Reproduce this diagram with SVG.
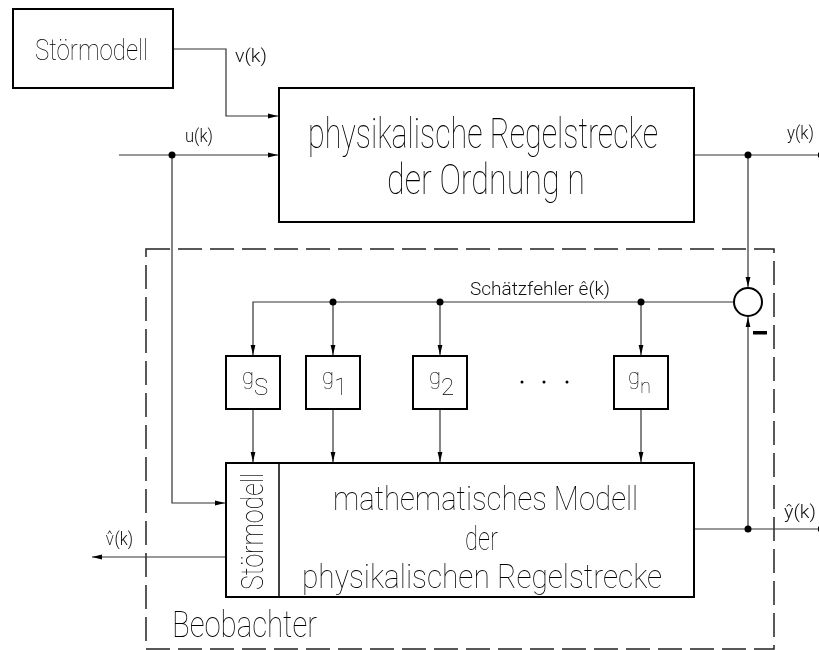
<svg xmlns="http://www.w3.org/2000/svg" width="819" height="650" viewBox="0 0 819 650">
  <style>
    .box { fill: #fff; stroke: #000; stroke-width: 2; }
    .wire { fill: none; stroke: #333; stroke-width: 1.2; }
    .dash { fill: none; stroke: #222; stroke-width: 1.5; stroke-dasharray: 24 8; }
    .t { font-family: "Roboto", "DejaVu Sans", sans-serif; font-weight: 100; fill: #000; }
    .s { font-family: "Roboto", "DejaVu Sans", sans-serif; font-weight: 300; fill: #111; font-size: 18px; }
    .dot { fill: #000; }
  </style>
  <defs>
    <marker id="arr" viewBox="0 0 10 6" refX="10" refY="3" markerWidth="10" markerHeight="6" markerUnits="userSpaceOnUse" orient="auto">
      <path d="M0,0.6 L10,3 L0,5.4 Z" fill="#000"/>
    </marker>
    <!-- plain black-and-white drawing -->
    <filter id="mono" x="0" y="0" width="819" height="650" filterUnits="userSpaceOnUse">
      <feColorMatrix type="saturate" values="0"/>
    </filter>
  </defs>

  <g filter="url(#mono)">
  <rect x="0" y="0" width="819" height="650" fill="#fff"/>

  <!-- observer boundary -->
  <rect class="dash" x="146" y="249" width="628" height="400"/>
  <text class="t" x="172" y="637" font-size="37" textLength="145" lengthAdjust="spacingAndGlyphs">Beobachter</text>

  <!-- connectors -->
  <g id="connectors">
    <polyline class="wire" points="173,49 226,49 226,116 278,116" marker-end="url(#arr)"/>
    <line class="wire" x1="119" y1="155" x2="278" y2="155" marker-end="url(#arr)"/>
    <polyline class="wire" points="172,155 172,503 225,503" marker-end="url(#arr)"/>
    <line class="wire" x1="694" y1="155" x2="828" y2="155" marker-end="url(#arr)"/>
    <line class="wire" x1="748" y1="155" x2="748" y2="287" marker-end="url(#arr)"/>
    <line class="wire" x1="694" y1="529" x2="828" y2="529" marker-end="url(#arr)"/>
    <line class="wire" x1="748" y1="529" x2="748" y2="317" marker-end="url(#arr)"/>
    <line class="wire" x1="226" y1="557" x2="92" y2="557" marker-end="url(#arr)"/>
    <polyline class="wire" points="734,302 253,302 253,355" marker-end="url(#arr)"/>
    <line class="wire" x1="333" y1="302" x2="333" y2="355" marker-end="url(#arr)"/>
    <line class="wire" x1="440" y1="302" x2="440" y2="355" marker-end="url(#arr)"/>
    <line class="wire" x1="641" y1="302" x2="641" y2="355" marker-end="url(#arr)"/>
    <line class="wire" x1="253" y1="410" x2="253" y2="462" marker-end="url(#arr)"/>
    <line class="wire" x1="333" y1="410" x2="333" y2="462" marker-end="url(#arr)"/>
    <line class="wire" x1="440" y1="410" x2="440" y2="462" marker-end="url(#arr)"/>
    <line class="wire" x1="641" y1="410" x2="641" y2="462" marker-end="url(#arr)"/>
    <circle class="dot" cx="172" cy="155" r="3.5"/>
    <circle class="dot" cx="748" cy="155" r="3.5"/>
    <circle class="dot" cx="748" cy="529" r="3.5"/>
    <circle class="dot" cx="333" cy="302" r="3.5"/>
    <circle class="dot" cx="440" cy="302" r="3.5"/>
    <circle class="dot" cx="641" cy="302" r="3.5"/>
    <text class="s" x="235" y="62" textLength="32" lengthAdjust="spacingAndGlyphs">v(k)</text>
    <text class="s" x="185" y="142" textLength="28" lengthAdjust="spacingAndGlyphs">u(k)</text>
    <text class="s" x="787" y="139" textLength="27" lengthAdjust="spacingAndGlyphs">y(k)</text>
    <text class="s" x="784" y="518" textLength="32" lengthAdjust="spacingAndGlyphs">ŷ(k)</text>
    <text class="s" x="105" y="545" textLength="28" lengthAdjust="spacingAndGlyphs">v̂(k)</text>
    <text class="s" x="470" y="295" textLength="140" lengthAdjust="spacingAndGlyphs">Schätzfehler ê(k)</text>
  </g>

  <!-- disturbance model -->
  <g id="stoermodell">
    <rect class="box" x="13" y="9" width="160" height="79"/>
    <text class="t" x="35" y="60" font-size="30" textLength="113" lengthAdjust="spacingAndGlyphs">Störmodell</text>
  </g>

  <!-- physical plant -->
  <g id="regelstrecke">
    <rect class="box" x="279" y="88" width="415" height="134"/>
    <text class="t" x="308" y="148" font-size="43" textLength="350" lengthAdjust="spacingAndGlyphs">physikalische Regelstrecke</text>
    <text class="t" x="387" y="194" font-size="43" textLength="198" lengthAdjust="spacingAndGlyphs">der Ordnung n</text>
  </g>

  <!-- summing junction -->
  <g id="summe">
    <circle cx="748" cy="302" r="14" fill="#fff" stroke="#000" stroke-width="2"/>
    <rect x="753" y="331" width="14" height="3.5" fill="#000"/>
  </g>

  <!-- gains -->
  <g id="gs">
    <rect class="box" x="226" y="356" width="54" height="53"/>
    <text class="t" x="242" y="384" font-size="22">g<tspan font-size="24" dy="11">S</tspan></text>
  </g>
  <g id="g1">
    <rect class="box" x="306" y="356" width="54" height="53"/>
    <text class="t" x="322" y="384" font-size="22">g<tspan font-size="24" dy="11">1</tspan></text>
  </g>
  <g id="g2">
    <rect class="box" x="413" y="356" width="54" height="53"/>
    <text class="t" x="429" y="384" font-size="22">g<tspan font-size="24" dy="11">2</tspan></text>
  </g>
  <g id="ellipsis">
    <circle class="dot" cx="522" cy="382" r="1.5"/>
    <circle class="dot" cx="544" cy="382" r="1.5"/>
    <circle class="dot" cx="567" cy="382" r="1.5"/>
  </g>
  <g id="gn">
    <rect class="box" x="614" y="356" width="54" height="53"/>
    <text class="t" x="628" y="384" font-size="22">g<tspan font-size="20" dy="9">n</tspan></text>
  </g>

  <!-- mathematical model -->
  <g id="modell">
    <rect class="box" x="226" y="463" width="468" height="134"/>
    <line x1="279" y1="463" x2="279" y2="597" stroke="#000" stroke-width="1.5"/>
    <text class="t" transform="translate(263,590) rotate(-90)" font-size="31" textLength="117" lengthAdjust="spacingAndGlyphs">Störmodell</text>
    <text class="t" x="333" y="510" font-size="34" textLength="305" lengthAdjust="spacingAndGlyphs">mathematisches Modell</text>
    <text class="t" x="465" y="550" font-size="34" textLength="33" lengthAdjust="spacingAndGlyphs">der</text>
    <text class="t" x="302" y="588" font-size="34" textLength="360" lengthAdjust="spacingAndGlyphs">physikalischen Regelstrecke</text>
  </g>
  </g>
</svg>
